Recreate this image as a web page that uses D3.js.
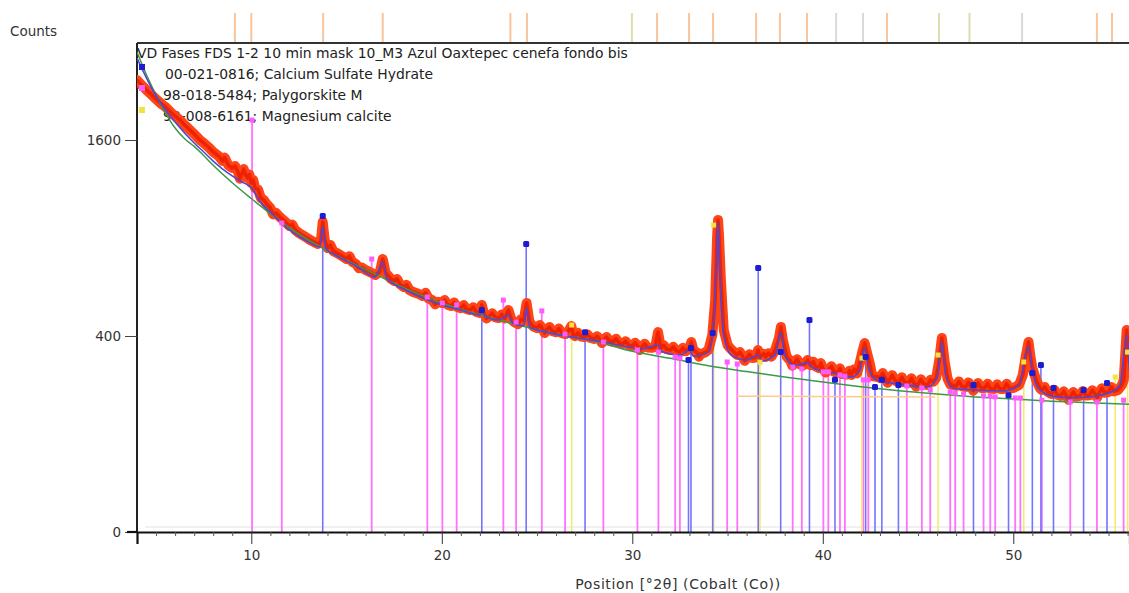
<!DOCTYPE html>
<html><head><meta charset="utf-8">
<script src="https://cdn.jsdelivr.net/npm/d3@7"></script>
<style>
body{margin:0;background:#fff;}
svg{display:block;font-family:"DejaVu Sans",sans-serif;}
</style>
</head><body>
<svg id="chart" width="1129" height="593"></svg>
<script>
// Measured pattern: [position °2θ, counts]
const observed = [
[4.0,2127],[4.3,2070],[4.5,2034],[4.8,1985],[5.0,1952],[5.3,1905],[5.5,1881],[5.8,1830],[6.0,1802],[6.3,1760],
[6.5,1725],[6.8,1680],[7.0,1649],[7.3,1600],[7.5,1576],[7.8,1535],[8.0,1504],[8.3,1470],[8.5,1433],[8.8,1400],
[9.0,1380],[9.3,1350],[9.5,1334],[9.7,1330],[9.8,1305],[9.9,1330],[10.0,1268],[10.1,1290],[10.2,1232],[10.5,1162],
[10.8,1120],[11.0,1093],[11.3,1060],[11.5,1033],[11.8,1000],[12.0,975],[12.3,950],[12.5,931],[12.8,910],[13.0,894],
[13.3,875],[13.5,864],[13.65,880],[13.75,1001],[13.85,890],[14.0,840],[14.3,822],[14.5,810],[14.8,790],[15.0,776],
[15.3,760],[15.5,748],[15.8,728],[16.0,715],[16.3,700],[16.5,688],[16.75,705],[16.9,776],[17.05,700],[17.3,670],
[17.5,656],[17.8,640],[18.0,625],[18.3,610],[18.5,600],[18.8,590],[19.0,580],[19.3,568],[19.5,560],[19.8,552],
[20.0,546],[20.3,538],[20.5,532],[20.8,527],[21.0,522],[21.3,517],[21.5,513],[21.8,505],[22.0,499],[22.1,537],
[22.2,500],[22.5,486],[22.8,480],[23.0,477],[23.3,475],[23.5,513],[23.65,470],[23.8,459],[24.0,450],[24.3,465],
[24.45,546],[24.6,460],[24.8,440],[25.0,433],[25.3,428],[25.5,425],[25.8,420],[26.0,416],[26.3,412],[26.5,408],
[26.8,442],[26.9,405],[27.0,400],[27.3,398],[27.5,396],[27.8,392],[28.0,388],[28.3,386],[28.5,384],[28.8,380],
[29.0,376],[29.3,372],[29.5,368],[29.8,364],[30.0,360],[30.3,358],[30.5,356],[30.8,354],[31.0,353],[31.2,356],
[31.35,416],[31.5,352],[31.8,348],[32.0,345],[32.3,342],[32.5,337],[32.8,340],[33.0,352],[33.1,376],[33.2,345],
[33.4,335],[33.6,330],[33.8,335],[34.0,345],[34.2,404],[34.35,560],[34.45,900],[34.5,1014],[34.55,920],[34.65,661],
[34.8,425],[35.0,364],[35.3,340],[35.5,326],[35.8,320],[36.0,315],[36.3,315],[36.5,318],[36.6,345],[36.7,318],
[37.0,319],[37.3,320],[37.5,345],[37.7,392],[37.8,438],[37.9,384],[38.1,320],[38.3,305],[38.5,297],[38.8,293],
[39.0,290],[39.2,308],[39.35,290],[39.6,287],[39.8,280],[40.0,278],[40.3,273],[40.6,267],[40.8,264],[41.0,260],
[41.3,258],[41.5,257],[41.8,262],[41.95,301],[42.1,345],[42.2,372],[42.3,340],[42.45,300],[42.6,253],[42.9,250],
[43.0,247],[43.3,244],[43.5,241],[43.8,238],[44.0,234],[44.3,233],[44.5,231],[44.8,230],[45.0,228],[45.3,227],
[45.5,225],[45.8,235],[45.95,247],[46.1,301],[46.25,392],[46.4,301],[46.55,245],[46.7,226],[47.0,222],[47.3,221],
[47.5,219],[47.8,218],[48.0,216],[48.3,216],[48.5,216],[48.8,214],[49.0,213],[49.3,213],[49.5,213],[49.8,215],
[50.0,216],[50.3,225],[50.5,257],[50.65,320],[50.8,376],[50.9,320],[51.0,280],[51.2,241],[51.4,215],[51.5,210],
[51.8,205],[52.0,198],[52.3,196],[52.5,193],[52.8,191],[53.0,190],[53.3,191],[53.5,193],[53.8,194],[54.0,195],
[54.3,198],[54.5,201],[54.8,202],[55.0,204],[55.3,206],[55.5,210],[55.7,225],[55.8,241],[55.95,425],[56.1,300],
// counting-noise excursions
[8.6,1460],[9.15,1395],[9.4,1300],[9.6,1372],[10.35,1222],[10.65,1150],[11.15,1050],[12.15,985],[14.15,858],[15.15,792],
[15.65,725],[17.65,667],[18.15,636],[19.15,596],[19.65,540],[20.15,560],[20.65,548],[21.15,536],[21.65,526],[22.35,475],
[22.65,498],[23.15,493],[24.15,471],[25.15,446],[25.4,412],[25.65,438],[26.15,431],[26.65,421],[27.15,413],[27.65,406],
[28.15,399],[28.4,372],[28.65,396],[29.15,389],[29.65,379],[30.15,373],[30.4,345],[30.65,369],[31.65,363],[32.15,357],
[32.65,353],[33.5,320],[35.15,351],[35.65,337],[35.9,305],[36.15,329],[36.9,331],[37.15,333],[38.4,288],[38.65,311],
[39.5,302],[39.9,297],[40.15,265],[40.45,286],[40.9,279],[41.4,271],[41.65,276],[43.15,263],[43.4,232],[43.65,256],
[44.15,249],[44.65,246],[44.9,220],[45.15,243],[45.65,241],[47.15,236],[47.65,233],[47.9,208],[48.15,231],[48.65,229],
[49.15,227],[49.65,229],[51.65,219],[52.15,211],[52.65,206],[52.9,182],[53.15,204],[53.65,207],[54.15,209],[54.4,188],
[54.65,215],[55.15,219]
];

// Calculated profile
const calculated = [
[4.0,2339],[4.5,2146],[5.0,1980],[5.5,1854],[6.0,1750],[6.5,1658],[7.0,1576],[7.5,1504],[8.0,1433],[8.5,1372],
[9.0,1320],[9.5,1276],[9.9,1247],[10.1,1218],[10.4,1148],[11.0,1066],[12.0,950],[13.0,876],[13.6,846],[13.75,975],
[13.9,840],[14.5,793],[15.5,737],[16.5,677],[16.9,759],[17.1,672],[18.0,615],[19.0,570],[20.0,537],[21.0,513],
[22.0,490],[22.1,522],[22.25,486],[23.0,468],[23.5,490],[23.7,455],[24.3,442],[24.45,522],[24.6,438],[25.5,416],
[26.5,400],[27.5,388],[28.5,376],[29.5,360],[30.5,349],[31.35,364],[31.5,341],[32.5,326],[33.0,345],[33.2,322],
[34.0,337],[34.25,425],[34.4,715],[34.5,1001],[34.6,688],[34.8,404],[35.2,326],[36.0,308],[36.6,326],[36.8,305],
[37.5,326],[37.8,416],[38.0,326],[38.5,290],[39.2,297],[39.5,280],[40.5,263],[41.5,250],[41.95,273],[42.2,353],
[42.4,280],[42.8,241],[44.0,228],[45.5,219],[46.0,247],[46.25,376],[46.45,257],[46.8,216],[48.0,210],[49.5,207],
[50.3,225],[50.8,360],[51.0,273],[51.3,216],[52.0,193],[53.0,187],[54.0,190],[55.0,201],[55.6,225],[55.95,404],
[56.1,273]
];

// Background
const background = [
[4.0,2399],[4.5,2175],[5.0,1988],[5.5,1828],[6.0,1699],[6.5,1610],[7.0,1548],[7.5,1476],[8.0,1400],[9.0,1270],
[10.0,1158],[11.0,1056],[12.0,964],[13.0,888],[14.0,822],[15.0,768],[16.0,718],[17.0,668],[18.0,622],[19.0,582],
[20.0,546],[22.0,490],[24.0,446],[26.0,408],[28.0,380],[30.0,340],[32.0,314],[34.0,288],[36.0,268],[38.0,250],
[40.0,234],[42.0,220],[44.0,208],[46.0,198],[48.0,190],[50.0,184],[52.0,178],[54.0,174],[56.1,170]
];

// Secondary background
const background2 = [[35.5,192],[45.9,190]];

// Reference sticks: [position °2θ, top counts]
const calciumSulfate = [
[13.75,1040],[22.1,513],[24.43,864],[27.52,416],[32.95,308],[33.08,353],[34.22,412],[36.61,726],[37.79,337],[39.3,468],
[40.64,241],[42.25,319],[42.74,219],[43.1,241],[43.97,225],[47.91,225],[49.75,195],[51.0,263],[51.45,290],[52.11,216],
[53.69,210],[54.92,231]
];
const palygorskite = [
[10.04,1767],[11.6,994],[16.32,776],[19.24,575],[20.03,546],[20.78,537],[23.23,560],[23.9,459],[25.25,509],[26.47,408],
[28.48,376],[30.27,345],[31.37,337],[32.25,319],[32.5,315],[34.98,301],[35.51,294],[38.42,283],[38.9,277],[40.03,267],
[40.29,267],[40.9,257],[41.16,253],[42.13,241],[42.39,241],[44.41,222],[45.2,216],[45.64,210],[46.69,204],[46.95,201],
[47.39,198],[48.44,193],[48.79,193],[49.05,190],[50.1,187],[50.37,187],[51.5,181],[52.99,176],[54.39,176],[55.79,181]
];
const magnesiumCalcite = [
[26.82,446],[34.27,981],[36.7,300],[42.05,315],[46.05,326],[50.55,301],[55.35,250],[56.0,337]
];

// Peak positions in the reference strip above the plot, with phase group
const stripPeaks = [9.14,10.0,13.77,16.9,23.6,24.47,29.98,31.3,32.98,34.24,36.5,37.75,39.17,40.7,42.11,43.37,46.1,47.7,50.46,54.39,55.18];
const stripGroup = ["o","o","o","o","o","o","g","o","o","o","o","o","o","k","k","o","g","g","k","o","o"];

const xTicks = [10,20,30,40,50];
const yTicks = [0,400,1600];

const legendLines = [
  "VD Fases FDS 1-2 10 min mask 10_M3 Azul Oaxtepec cenefa fondo bis",
  "00-021-0816; Calcium Sulfate Hydrate",
  "98-018-5484; Palygorskite M",
  "98-008-6161; Magnesium calcite"
];

const svg = d3.select("#chart");
const L = 137, R = 1129.5, T = 43, B = 532;
const x = d3.scaleLinear().domain([4.0, 56.1]).range([L, R]);
const y = d3.scaleSqrt().domain([0, 2490]).range([B, T]);

svg.append("defs").append("clipPath").attr("id","plot")
  .append("rect").attr("x",L).attr("y",T).attr("width",R-L).attr("height",B-T);

// reference strip
const stripColor = {o:"#f5ad76", g:"#cfcf8c", k:"#cacad0"};
svg.append("g").selectAll("line").data(stripPeaks).join("line")
  .attr("x1",d=>x(d)).attr("x2",d=>x(d)).attr("y1",13).attr("y2",42)
  .attr("stroke",(d,i)=>stripColor[stripGroup[i]]).attr("stroke-width",2).attr("opacity",0.7);

// frame
svg.append("line").attr("x1",L).attr("x2",R).attr("y1",T).attr("y2",T).attr("stroke","#333").attr("stroke-width",2);
svg.append("line").attr("x1",L).attr("x2",L).attr("y1",T).attr("y2",B).attr("stroke","#222").attr("stroke-width",2);

// legend
const leg = svg.append("g").attr("font-size",13.9).attr("fill","#222");
const legX = [137, 165, 163, 163];
const legY = [58, 79, 100, 121];
legendLines.forEach((t,i)=>leg.append("text").attr("x",legX[i]).attr("y",legY[i]).text(t));

const plot = svg.append("g").attr("clip-path","url(#plot)");

// faint zero reference line
plot.append("line").attr("x1",L+8).attr("x2",R).attr("y1",y(0.26)).attr("y2",y(0.26))
  .attr("stroke","#e2e2e2").attr("stroke-width",1);

function sticks(data, color, w){
  plot.append("g").selectAll("line").data(data).join("line")
    .attr("x1",d=>x(d[0])).attr("x2",d=>x(d[0]))
    .attr("y1",y(0)).attr("y2",d=>y(d[1]))
    .attr("stroke",color).attr("stroke-width",w);
}
sticks(palygorskite, "#ff72ff", 1.8);
sticks(magnesiumCalcite, "#f7ea6a", 1.6);
sticks(calciumSulfate, "#7474ff", 1.6);

const obsSorted = d3.sort(observed, d=>d[0]);
const line = d3.line().x(d=>x(d[0])).y(d=>y(d[1]));

plot.append("path").datum(obsSorted).attr("d",line)
  .attr("fill","none").attr("stroke","#ff4418").attr("stroke-width",10)
  .attr("stroke-linejoin","round").attr("stroke-linecap","round");
plot.append("path").datum(obsSorted).attr("d",line)
  .attr("fill","none").attr("stroke","#ee2200").attr("stroke-width",3.5)
  .attr("stroke-linejoin","round");

plot.append("path").datum(background2).attr("d",line)
  .attr("fill","none").attr("stroke","#ffc98e").attr("stroke-width",1.5);
plot.append("path").datum(background).attr("d",d3.line().curve(d3.curveMonotoneX).x(d=>x(d[0])).y(d=>y(d[1])))
  .attr("fill","none").attr("stroke","#3c9a44").attr("stroke-width",1.5);
plot.append("path").datum(calculated).attr("d",d3.line().curve(d3.curveMonotoneX).x(d=>x(d[0])).y(d=>y(d[1])))
  .attr("fill","none").attr("stroke","#5146d6").attr("stroke-width",1.6);

// stick markers
plot.append("g").selectAll("rect").data(palygorskite).join("rect")
  .attr("x",d=>x(d[0])-2.5).attr("y",d=>y(d[1])-2.5).attr("width",5).attr("height",5)
  .attr("fill","#ff5cff");
plot.append("g").selectAll("rect").data(magnesiumCalcite).join("rect")
  .attr("x",d=>x(d[0])-2.5).attr("y",d=>y(d[1])-2.5).attr("width",5).attr("height",5)
  .attr("fill","#f2e43c");
plot.append("g").selectAll("rect").data(calciumSulfate).join("rect")
  .attr("x",d=>x(d[0])-3).attr("y",d=>y(d[1])-3).attr("width",6).attr("height",6)
  .attr("rx",1.5).attr("fill","#1c1cd2");

// legend markers
const legMark = [["#1c1cd2",67],["#ff5cff",88],["#f2e43c",110]];
svg.append("g").selectAll("rect").data(legMark).join("rect")
  .attr("x",139).attr("y",d=>d[1]-3).attr("width",6).attr("height",6).attr("fill",d=>d[0]);

// axes
const xAxis = svg.append("g").attr("transform",`translate(0,${B})`)
  .call(d3.axisBottom(x).tickValues(xTicks).tickSize(12).tickPadding(6).tickFormat(d3.format("d")));
xAxis.select(".domain").attr("stroke","#111").attr("stroke-width",2.2);
xAxis.selectAll(".tick line").attr("stroke","#333");
xAxis.selectAll("text").attr("font-size",13.5).attr("fill","#333").attr("font-family","DejaVu Sans");
const minor = d3.range(5,57).filter(v=>v%10!==0);
svg.append("g").attr("transform",`translate(0,${B})`)
  .call(d3.axisBottom(x).tickValues(minor).tickSize(4).tickFormat(""))
  .call(g=>g.select(".domain").remove())
  .selectAll("line").attr("stroke","#555");

const yAxis = svg.append("g").attr("transform",`translate(${L},0)`)
  .call(d3.axisLeft(y).tickValues(yTicks).tickSize(12).tickPadding(4).tickFormat(d3.format("d")));
yAxis.select(".domain").remove();
yAxis.selectAll(".tick line").attr("stroke","#444");
yAxis.selectAll("text").attr("font-size",13.5).attr("fill","#333").attr("font-family","DejaVu Sans");
svg.append("line").attr("x1",127).attr("x2",L).attr("y1",B).attr("y2",B).attr("stroke","#111").attr("stroke-width",2.2);

svg.append("text").attr("x",10).attr("y",36).attr("font-size",13.5).attr("fill","#333").text("Counts");
svg.append("text").attr("x",678).attr("y",589).attr("text-anchor","middle").attr("font-size",14).attr("fill","#333")
  .attr("letter-spacing",0.6).text("Position [°2θ] (Cobalt (Co))");
</script>
</body></html>
